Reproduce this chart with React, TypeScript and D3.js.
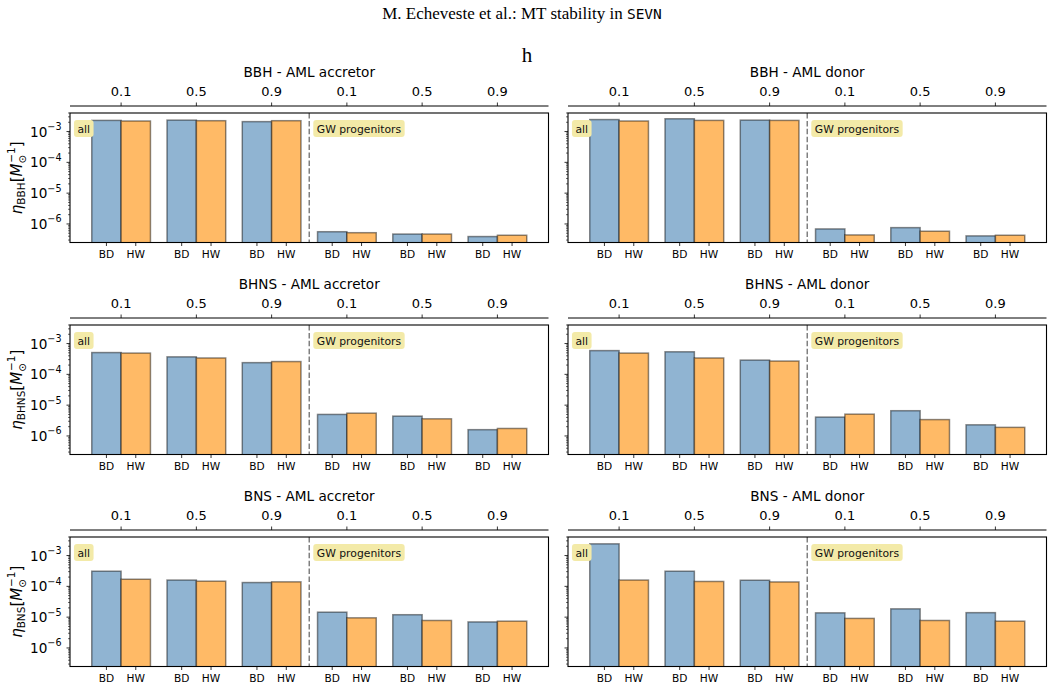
import React from 'react'
import * as d3 from 'd3'

// figure size
const W = 1053
const H = 690

// categories
const groupLabels = ['0.1', '0.5', '0.9', '0.1', '0.5', '0.9']
const modelLabels = ['BD', 'HW']
const systems = ['BBH', 'BHNS', 'BNS']
const amlModes = ['accretor', 'donor']

// eta values [Msun^-1], first three groups = all, last three = GW progenitors
const bbhAccretorBD = [2.3e-3, 2.35e-3, 2.1e-3, 5.6e-7, 4.7e-7, 3.9e-7]
const bbhAccretorHW = [2.2e-3, 2.25e-3, 2.25e-3, 5.2e-7, 4.7e-7, 4.3e-7]
const bbhDonorBD = [2.45e-3, 2.6e-3, 2.35e-3, 6.9e-7, 7.6e-7, 4.1e-7]
const bbhDonorHW = [2.2e-3, 2.3e-3, 2.3e-3, 4.4e-7, 5.8e-7, 4.3e-7]
const bhnsAccretorBD = [5.1e-4, 3.7e-4, 2.4e-4, 5.0e-6, 4.4e-6, 1.6e-6]
const bhnsAccretorHW = [4.9e-4, 3.4e-4, 2.6e-4, 5.5e-6, 3.6e-6, 1.75e-6]
const bhnsDonorBD = [5.9e-4, 5.4e-4, 2.9e-4, 4.1e-6, 6.6e-6, 2.3e-6]
const bhnsDonorHW = [4.9e-4, 3.4e-4, 2.7e-4, 5.1e-6, 3.4e-6, 1.9e-6]
const bnsAccretorBD = [3.1e-4, 1.6e-4, 1.33e-4, 1.45e-5, 1.2e-5, 7.0e-6]
const bnsAccretorHW = [1.7e-4, 1.47e-4, 1.4e-4, 9.5e-6, 7.8e-6, 7.4e-6]
const bnsDonorBD = [2.4e-3, 3.1e-4, 1.58e-4, 1.38e-5, 1.86e-5, 1.4e-5]
const bnsDonorHW = [1.6e-4, 1.44e-4, 1.39e-4, 9.1e-6, 7.8e-6, 7.4e-6]

const panelData = [
  [bbhAccretorBD, bbhAccretorHW, bbhDonorBD, bbhDonorHW],
  [bhnsAccretorBD, bhnsAccretorHW, bhnsDonorBD, bhnsDonorHW],
  [bnsAccretorBD, bnsAccretorHW, bnsDonorBD, bnsDonorHW],
]

const yTickExp = [-6, -5, -4, -3]

const SANS = "'DejaVu Sans', sans-serif"
const SERIF = "'Liberation Serif', 'Times New Roman', serif"
const BLUE = '#90b4d2'
const ORANGE = '#ffba66'
const EDGE = 'rgba(0,0,0,0.45)'
const BOXFILL = '#f3eaa8'

const colLeft = [70, 568]
const rowTop = [113, 325, 537]
const axW = 478.5
const axH = 129.5
const barW = 0.39

function measure(s: string, font: string) {
  const ctx = document.createElement('canvas').getContext('2d')!
  ctx.font = font
  return ctx.measureText(s).width
}

function Note({ x, y, label }: { x: number; y: number; label: string }) {
  const w = measure(label, `10.8px 'DejaVu Sans'`)
  return (
    <g>
      <rect x={x - 3.5} y={y - 8.5} width={w + 7} height={17} rx={3} fill={BOXFILL} />
      <text x={x} y={y + 4} fontSize={10.8} fontFamily={SANS} fill="#111">{label}</text>
    </g>
  )
}

function Panel({ row, col }: { row: number; col: number }) {
  const left = colLeft[col]
  const top = rowTop[row]
  const bottom = top + axH
  const bd = panelData[row][col * 2]
  const hw = panelData[row][col * 2 + 1]
  const sys = systems[row]
  const idx = d3.range(groupLabels.length)

  const x = d3.scaleLinear().domain([-0.679, 5.679]).range([left, left + axW])
  const y = d3.scaleLog().domain([2.5e-7, 4e-3]).range([bottom, top])
  const minor = y.ticks().filter((t) => Math.abs(Math.log10(t) - Math.round(Math.log10(t))) > 1e-6)
  const clipId = `clip-${row}-${col}`

  const bars = idx.flatMap((i) => [
    { x0: i - barW, v: bd[i], fill: BLUE, lab: modelLabels[0] },
    { x0: i, v: hw[i], fill: ORANGE, lab: modelLabels[1] },
  ])

  return (
    <g>
      <clipPath id={clipId}>
        <rect x={left} y={top} width={axW} height={axH} />
      </clipPath>

      {/* title and top axis */}
      <text x={left + axW / 2} y={top - 36} textAnchor="middle" fontSize={13.6} fontFamily={SANS}>
        {`${sys} - AML ${amlModes[col]}`}
      </text>
      <line x1={left} x2={left + axW} y1={top - 7} y2={top - 7} stroke="#000" strokeWidth={1} />
      {idx.map((i) => (
        <g key={`t${i}`}>
          <line x1={x(i)} x2={x(i)} y1={top - 7} y2={top - 10.5} stroke="#000" strokeWidth={0.8} />
          <text x={x(i)} y={top - 17} textAnchor="middle" fontSize={13} fontFamily={SANS}>
            {groupLabels[i]}
          </text>
        </g>
      ))}

      {/* bars */}
      <g clipPath={`url(#${clipId})`}>
        {bars.map((b, k) => (
          <rect
            key={k}
            x={x(b.x0)}
            y={y(b.v)}
            width={x(b.x0 + barW) - x(b.x0)}
            height={bottom + 5 - y(b.v)}
            fill={b.fill}
            stroke={EDGE}
            strokeWidth={1.5}
          />
        ))}
      </g>

      {/* divider */}
      <line x1={x(2.5)} x2={x(2.5)} y1={top} y2={bottom} stroke="#808080" strokeWidth={1.5} strokeDasharray="5.5,2.4" />

      <Note x={x(-0.58)} y={top + 15.5} label="all" />
      <Note x={x(2.6)} y={top + 15.5} label="GW progenitors" />

      {/* frame */}
      <rect x={left} y={top} width={axW} height={axH} fill="none" stroke="#000" strokeWidth={1.1} />

      {/* bottom ticks */}
      {bars.map((b, k) => {
        const cx = x(b.x0 + barW / 2)
        return (
          <g key={`b${k}`}>
            <line x1={cx} x2={cx} y1={bottom} y2={bottom + 3.5} stroke="#000" strokeWidth={0.8} />
            <text x={cx} y={bottom + 15} textAnchor="middle" fontSize={10.6} fontFamily={SANS}>
              {b.lab}
            </text>
          </g>
        )
      })}

      {/* y ticks */}
      {minor.map((t, k) => (
        <line key={`m${k}`} x1={left} x2={left - 2} y1={y(t)} y2={y(t)} stroke="#000" strokeWidth={0.6} />
      ))}
      {yTickExp.map((e) => (
        <g key={`y${e}`}>
          <line x1={left} x2={left - 3.5} y1={y(10 ** e)} y2={y(10 ** e)} stroke="#000" strokeWidth={0.8} />
          {col === 0 && (
            <text x={left - 8.5} y={y(10 ** e) + 5} textAnchor="end" fontSize={13.6} fontFamily={SANS}>
              10
              <tspan fontSize={9.6} dy={-6.5}>{`\u2212${-e}`}</tspan>
            </text>
          )}
        </g>
      ))}

      {col === 0 && (
        <text
          transform={`translate(22,${top + axH / 2}) rotate(-90)`}
          textAnchor="middle"
          fontSize={15}
          fontFamily={SANS}
        >
          <tspan fontStyle="italic">η</tspan>
          <tspan fontSize={10.5} dy={3}>{sys}</tspan>
          <tspan dy={-3}>[</tspan>
          <tspan fontStyle="italic">M</tspan>
          <tspan fontSize={10.5} dy={3.5}>⊙</tspan>
          <tspan fontSize={10.5} dx={-8} dy={-10.5}>{'\u22121'}</tspan>
          <tspan dy={7}>]</tspan>
        </text>
      )}
    </g>
  )
}

export default function App() {
  return (
    <svg
      width={W}
      height={H}
      viewBox={`0 0 ${W} ${H}`}
      style={{ position: 'absolute', left: 0, top: 0, background: '#fff' }}
    >
      <rect width={W} height={H} fill="#fff" />
      <text x={522} y={19} textAnchor="middle" fontSize={17} fontFamily={SERIF}>
        M. Echeveste et al.: MT stability in{' '}
        <tspan fontFamily="'DejaVu Sans Mono', monospace" fontSize={14.5}>SEVN</tspan>
      </text>
      <text x={527} y={62} textAnchor="middle" fontSize={21} fontFamily={SERIF}>
        h
      </text>
      {systems.map((_, r) => amlModes.map((__, c) => <Panel key={`${r}-${c}`} row={r} col={c} />))}
    </svg>
  )
}
